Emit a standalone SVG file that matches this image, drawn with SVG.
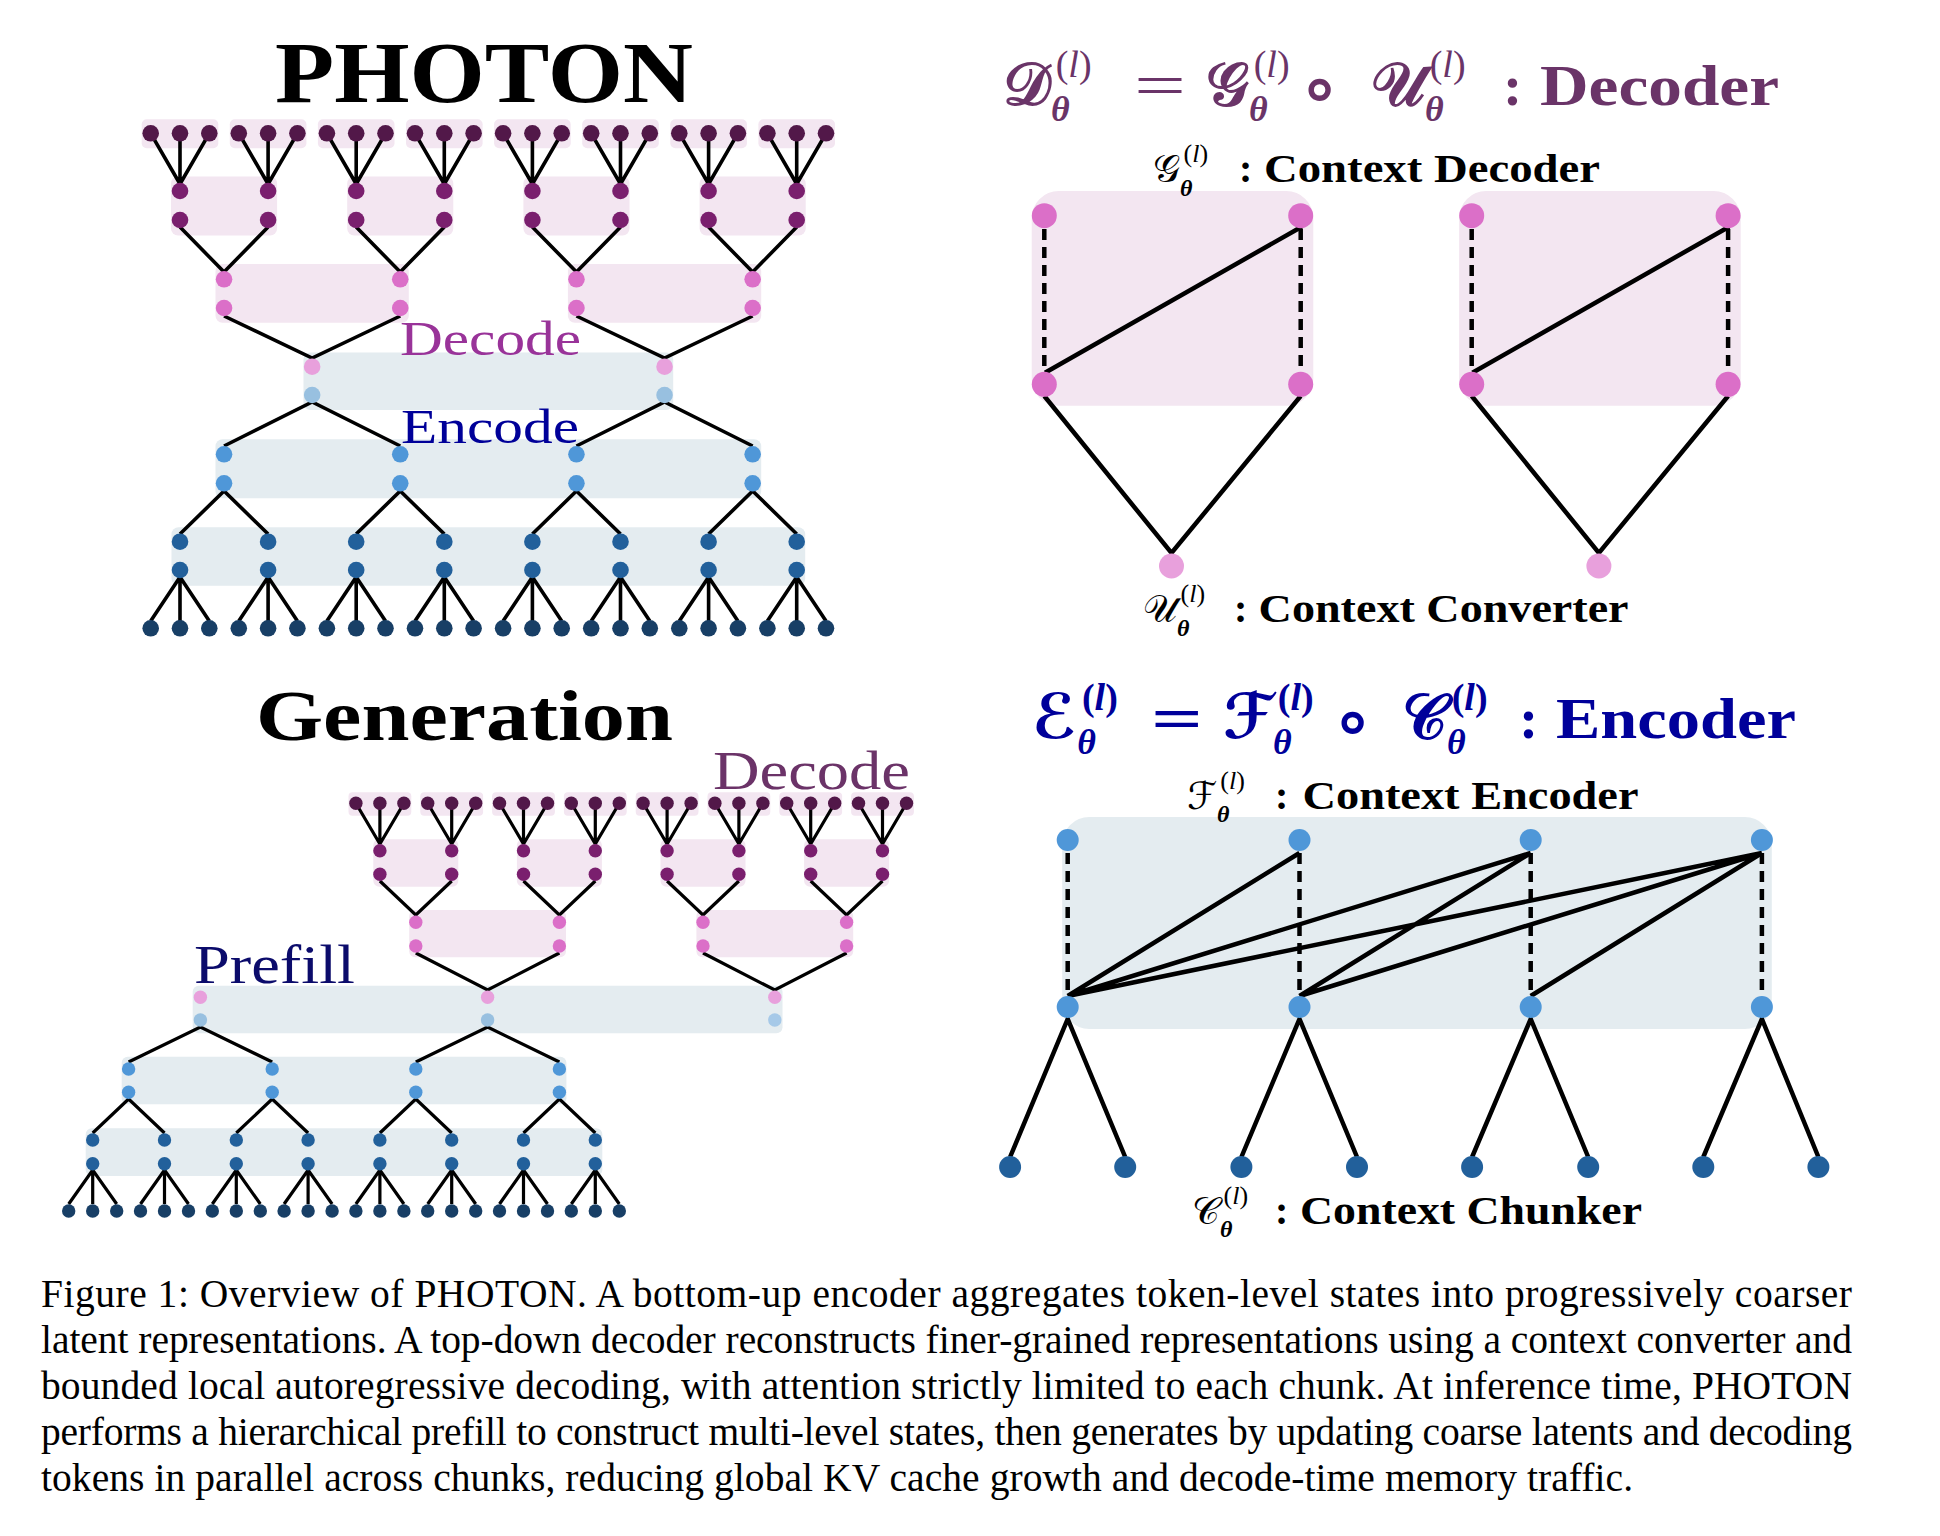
<svg xmlns="http://www.w3.org/2000/svg" width="1940" height="1536" viewBox="0 0 1940 1536">
<style>
text{font-family:"Liberation Serif","Times New Roman",serif}
.m{font-family:"DejaVu Serif","DejaVu Sans","Liberation Serif",serif}
.k1{fill:#521849}.k2{fill:#7a1f6e}.k3{fill:#db6fc8}.k4{fill:#e8a0dc}.k4b{fill:#98c0e0}.k5{fill:#4f97d8}.k6{fill:#22609b}.k7{fill:#183f66}
.pb{fill:#f3e6f1}.bb{fill:#e4ecf0}
.ln{stroke:#000;stroke-width:3.6;fill:none}
.lg{stroke:#000;stroke-width:3.2;fill:none}
.lw{stroke:#000;stroke-width:4.5;fill:none}
.dash{stroke-dasharray:11 7}
</style>
<rect width="1940" height="1536" fill="#fff"/>
<!-- background chunks -->
<g id="chunks">
 <g id="photon-chunks">
  <rect id="pc-leaf-0" class="pb" x="141.7" y="119.3" width="76.6" height="29" rx="5"/>
  <rect id="pc-leaf-1" class="pb" x="229.8" y="119.3" width="76.6" height="29" rx="5"/>
  <rect id="pc-leaf-2" class="pb" x="317.9" y="119.3" width="76.6" height="29" rx="5"/>
  <rect id="pc-leaf-3" class="pb" x="406.0" y="119.3" width="76.6" height="29" rx="5"/>
  <rect id="pc-leaf-4" class="pb" x="494.1" y="119.3" width="76.6" height="29" rx="5"/>
  <rect id="pc-leaf-5" class="pb" x="582.2" y="119.3" width="76.6" height="29" rx="5"/>
  <rect id="pc-leaf-6" class="pb" x="670.3" y="119.3" width="76.6" height="29" rx="5"/>
  <rect id="pc-leaf-7" class="pb" x="758.4" y="119.3" width="76.6" height="29" rx="5"/>
  <rect id="pc-l2-0" class="pb" x="171.0" y="176.5" width="106.1" height="59" rx="7"/>
  <rect id="pc-l2-1" class="pb" x="347.2" y="176.5" width="106.1" height="59" rx="7"/>
  <rect id="pc-l2-2" class="pb" x="523.4" y="176.5" width="106.1" height="59" rx="7"/>
  <rect id="pc-l2-3" class="pb" x="699.6" y="176.5" width="106.1" height="59" rx="7"/>
  <rect id="pc-l3-0" class="pb" x="215.5" y="264" width="193.3" height="58.7" rx="7"/>
  <rect id="pc-l3-1" class="pb" x="567.9" y="264" width="193.3" height="58.7" rx="7"/>
  <rect id="pc-l4" class="bb" x="303.5" y="352.5" width="369.7" height="57.5" rx="7"/>
  <rect id="pc-l5" class="bb" x="215.5" y="439.3" width="545.7" height="59" rx="7"/>
  <rect id="pc-l6" class="bb" x="171.5" y="527.3" width="633.7" height="58.4" rx="7"/>
 </g>
 <g id="gen-chunks">
  <rect id="gc-leaf-0" class="pb" x="348.5" y="792.3" width="62.8" height="23.4" rx="4"/>
  <rect id="gc-leaf-1" class="pb" x="420.3" y="792.3" width="62.8" height="23.4" rx="4"/>
  <rect id="gc-leaf-2" class="pb" x="492.1" y="792.3" width="62.8" height="23.4" rx="4"/>
  <rect id="gc-leaf-3" class="pb" x="563.9" y="792.3" width="62.8" height="23.4" rx="4"/>
  <rect id="gc-leaf-4" class="pb" x="635.7" y="792.3" width="62.8" height="23.4" rx="4"/>
  <rect id="gc-leaf-5" class="pb" x="707.5" y="792.3" width="62.8" height="23.4" rx="4"/>
  <rect id="gc-leaf-6" class="pb" x="779.3" y="792.3" width="62.8" height="23.4" rx="4"/>
  <rect id="gc-leaf-7" class="pb" x="851.1" y="792.3" width="62.8" height="23.4" rx="4"/>
  <rect id="gc-l2-0" class="pb" x="373.3" y="839.3" width="85" height="47.4" rx="6"/>
  <rect id="gc-l2-1" class="pb" x="516.9" y="839.3" width="85" height="47.4" rx="6"/>
  <rect id="gc-l2-2" class="pb" x="660.5" y="839.3" width="85" height="47.4" rx="6"/>
  <rect id="gc-l2-3" class="pb" x="804.1" y="839.3" width="85" height="47.4" rx="6"/>
  <rect id="gc-l3-0" class="pb" x="409.2" y="910" width="156.8" height="47.3" rx="6"/>
  <rect id="gc-l3-1" class="pb" x="696.4" y="910" width="156.8" height="47.3" rx="6"/>
  <rect id="gc-l4" class="bb" x="192.7" y="985.7" width="589.8" height="47.6" rx="6"/>
  <rect id="gc-l5" class="bb" x="121.7" y="1056.7" width="444.7" height="47.6" rx="6"/>
  <rect id="gc-l6" class="bb" x="85.7" y="1128.3" width="516.6" height="47.7" rx="6"/>
 </g>
 <rect id="dec-box-0" class="pb" x="1031.7" y="191" width="281.6" height="214.7" rx="27"/>
 <rect id="dec-box-1" class="pb" x="1459.1" y="191" width="281.6" height="214.7" rx="27"/>
 <rect id="enc-box" class="bb" x="1062.2" y="817" width="709.6" height="212" rx="27"/>
</g>
<!-- connectors -->
<g id="connectors">
 <g id="photon-edges" class="ln">
  <path transform="translate(180 0)" d="M-29.3 133.3L0 184M0 133.3V184M29.3 133.3L0 184"/>
  <path transform="translate(268.1 0)" d="M-29.3 133.3L0 184M0 133.3V184M29.3 133.3L0 184"/>
  <path transform="translate(356.2 0)" d="M-29.3 133.3L0 184M0 133.3V184M29.3 133.3L0 184"/>
  <path transform="translate(444.3 0)" d="M-29.3 133.3L0 184M0 133.3V184M29.3 133.3L0 184"/>
  <path transform="translate(532.4 0)" d="M-29.3 133.3L0 184M0 133.3V184M29.3 133.3L0 184"/>
  <path transform="translate(620.5 0)" d="M-29.3 133.3L0 184M0 133.3V184M29.3 133.3L0 184"/>
  <path transform="translate(708.6 0)" d="M-29.3 133.3L0 184M0 133.3V184M29.3 133.3L0 184"/>
  <path transform="translate(796.7 0)" d="M-29.3 133.3L0 184M0 133.3V184M29.3 133.3L0 184"/>
  <path transform="translate(224.05 0)" d="M-44.05 227L0 272L44.05 227"/>
  <path transform="translate(400.25 0)" d="M-44.05 227L0 272L44.05 227"/>
  <path transform="translate(576.45 0)" d="M-44.05 227L0 272L44.05 227"/>
  <path transform="translate(752.65 0)" d="M-44.05 227L0 272L44.05 227"/>
  <path transform="translate(312.15 0)" d="M-88.1 316L0 358L88.1 316"/>
  <path transform="translate(664.55 0)" d="M-88.1 316L0 358L88.1 316"/>
  <path transform="translate(312.15 0)" d="M-88.1 446L0 402L88.1 446"/>
  <path transform="translate(664.55 0)" d="M-88.1 446L0 402L88.1 446"/>
  <path transform="translate(224.05 0)" d="M-44.05 534L0 491L44.05 534"/>
  <path transform="translate(400.25 0)" d="M-44.05 534L0 491L44.05 534"/>
  <path transform="translate(576.45 0)" d="M-44.05 534L0 491L44.05 534"/>
  <path transform="translate(752.65 0)" d="M-44.05 534L0 491L44.05 534"/>
  <path transform="translate(180 0)" d="M-29.3 621L0 577L29.3 621M0 577V621"/>
  <path transform="translate(268.1 0)" d="M-29.3 621L0 577L29.3 621M0 577V621"/>
  <path transform="translate(356.2 0)" d="M-29.3 621L0 577L29.3 621M0 577V621"/>
  <path transform="translate(444.3 0)" d="M-29.3 621L0 577L29.3 621M0 577V621"/>
  <path transform="translate(532.4 0)" d="M-29.3 621L0 577L29.3 621M0 577V621"/>
  <path transform="translate(620.5 0)" d="M-29.3 621L0 577L29.3 621M0 577V621"/>
  <path transform="translate(708.6 0)" d="M-29.3 621L0 577L29.3 621M0 577V621"/>
  <path transform="translate(796.7 0)" d="M-29.3 621L0 577L29.3 621M0 577V621"/>
 </g>
 <g id="gen-edges" class="lg">
  <path transform="translate(379.9 0)" d="M-24 803.3L0 844M0 803.3V844M24 803.3L0 844"/>
  <path transform="translate(451.7 0)" d="M-24 803.3L0 844M0 803.3V844M24 803.3L0 844"/>
  <path transform="translate(523.5 0)" d="M-24 803.3L0 844M0 803.3V844M24 803.3L0 844"/>
  <path transform="translate(595.3 0)" d="M-24 803.3L0 844M0 803.3V844M24 803.3L0 844"/>
  <path transform="translate(667.1 0)" d="M-24 803.3L0 844M0 803.3V844M24 803.3L0 844"/>
  <path transform="translate(738.9 0)" d="M-24 803.3L0 844M0 803.3V844M24 803.3L0 844"/>
  <path transform="translate(810.7 0)" d="M-24 803.3L0 844M0 803.3V844M24 803.3L0 844"/>
  <path transform="translate(882.5 0)" d="M-24 803.3L0 844M0 803.3V844M24 803.3L0 844"/>
  <path transform="translate(415.8 0)" d="M-35.9 881L0 915L35.9 881"/>
  <path transform="translate(559.4 0)" d="M-35.9 881L0 915L35.9 881"/>
  <path transform="translate(703.0 0)" d="M-35.9 881L0 915L35.9 881"/>
  <path transform="translate(846.6 0)" d="M-35.9 881L0 915L35.9 881"/>
  <path transform="translate(487.6 0)" d="M-71.8 953L0 990L71.8 953"/>
  <path transform="translate(774.8 0)" d="M-71.8 953L0 990L71.8 953"/>
  <path transform="translate(200.4 0)" d="M-71.8 1062L0 1027L71.8 1062"/>
  <path transform="translate(487.6 0)" d="M-71.8 1062L0 1027L71.8 1062"/>
  <path transform="translate(128.6 0)" d="M-35.9 1133L0 1099L35.9 1133"/>
  <path transform="translate(272.2 0)" d="M-35.9 1133L0 1099L35.9 1133"/>
  <path transform="translate(415.8 0)" d="M-35.9 1133L0 1099L35.9 1133"/>
  <path transform="translate(559.4 0)" d="M-35.9 1133L0 1099L35.9 1133"/>
  <path transform="translate(92.7 0)" d="M-24 1204L0 1170L24 1204M0 1170V1204"/>
  <path transform="translate(164.5 0)" d="M-24 1204L0 1170L24 1204M0 1170V1204"/>
  <path transform="translate(236.3 0)" d="M-24 1204L0 1170L24 1204M0 1170V1204"/>
  <path transform="translate(308.1 0)" d="M-24 1204L0 1170L24 1204M0 1170V1204"/>
  <path transform="translate(379.9 0)" d="M-24 1204L0 1170L24 1204M0 1170V1204"/>
  <path transform="translate(451.7 0)" d="M-24 1204L0 1170L24 1204M0 1170V1204"/>
  <path transform="translate(523.5 0)" d="M-24 1204L0 1170L24 1204M0 1170V1204"/>
  <path transform="translate(595.3 0)" d="M-24 1204L0 1170L24 1204M0 1170V1204"/>
 </g>
 <g id="decoder-edges" class="lw">
  <path class="dash" d="M1044.3 229V372M1300.7 229V372M1471.7 229V372M1728.1 229V372"/>
  <path d="M1045 372.7L1301.7 226.7M1472.4 372.7L1729.1 226.7"/>
  <path d="M1044.3 396L1171.5 553L1300.7 396M1471.7 396L1598.9 553L1728.1 396"/>
 </g>
 <g id="encoder-edges" class="lw">
  <path class="dash" d="M1067.7 853V995M1299.5 853V995M1530.7 853V995M1761.9 853V995"/>
  <path d="M1067.7 996L1299.5 853M1067.7 996L1530.7 853M1067.7 996L1761.9 853M1299.5 996L1530.7 853M1299.5 996L1761.9 853M1530.7 996L1761.9 853"/>
  <path d="M1010.1 1157L1067.7 1019L1125.2 1157M1241.4 1157L1299.5 1019L1357 1157M1472.1 1157L1530.7 1019L1588.2 1157M1703.3 1157L1761.9 1019L1818.4 1157"/>
 </g>
</g>
<!-- PHOTON nodes -->
<g id="photon-nodes">
 <g id="p-dleaf-0" class="k1" transform="translate(180 0)"><circle cx="-29.3" cy="133.3" r="8.3"/><circle cx="0" cy="133.3" r="8.3"/><circle cx="29.3" cy="133.3" r="8.3"/></g>
 <g id="p-dleaf-1" class="k1" transform="translate(268.1 0)"><circle cx="-29.3" cy="133.3" r="8.3"/><circle cx="0" cy="133.3" r="8.3"/><circle cx="29.3" cy="133.3" r="8.3"/></g>
 <g id="p-dleaf-2" class="k1" transform="translate(356.2 0)"><circle cx="-29.3" cy="133.3" r="8.3"/><circle cx="0" cy="133.3" r="8.3"/><circle cx="29.3" cy="133.3" r="8.3"/></g>
 <g id="p-dleaf-3" class="k1" transform="translate(444.3 0)"><circle cx="-29.3" cy="133.3" r="8.3"/><circle cx="0" cy="133.3" r="8.3"/><circle cx="29.3" cy="133.3" r="8.3"/></g>
 <g id="p-dleaf-4" class="k1" transform="translate(532.4 0)"><circle cx="-29.3" cy="133.3" r="8.3"/><circle cx="0" cy="133.3" r="8.3"/><circle cx="29.3" cy="133.3" r="8.3"/></g>
 <g id="p-dleaf-5" class="k1" transform="translate(620.5 0)"><circle cx="-29.3" cy="133.3" r="8.3"/><circle cx="0" cy="133.3" r="8.3"/><circle cx="29.3" cy="133.3" r="8.3"/></g>
 <g id="p-dleaf-6" class="k1" transform="translate(708.6 0)"><circle cx="-29.3" cy="133.3" r="8.3"/><circle cx="0" cy="133.3" r="8.3"/><circle cx="29.3" cy="133.3" r="8.3"/></g>
 <g id="p-dleaf-7" class="k1" transform="translate(796.7 0)"><circle cx="-29.3" cy="133.3" r="8.3"/><circle cx="0" cy="133.3" r="8.3"/><circle cx="29.3" cy="133.3" r="8.3"/></g>
 <g id="p-l2-0" class="k2" transform="translate(180 0)"><circle cx="0" cy="191" r="8.3"/><circle cx="0" cy="220" r="8.3"/><circle cx="88.1" cy="191" r="8.3"/><circle cx="88.1" cy="220" r="8.3"/></g>
 <g id="p-l2-1" class="k2" transform="translate(356.2 0)"><circle cx="0" cy="191" r="8.3"/><circle cx="0" cy="220" r="8.3"/><circle cx="88.1" cy="191" r="8.3"/><circle cx="88.1" cy="220" r="8.3"/></g>
 <g id="p-l2-2" class="k2" transform="translate(532.4 0)"><circle cx="0" cy="191" r="8.3"/><circle cx="0" cy="220" r="8.3"/><circle cx="88.1" cy="191" r="8.3"/><circle cx="88.1" cy="220" r="8.3"/></g>
 <g id="p-l2-3" class="k2" transform="translate(708.6 0)"><circle cx="0" cy="191" r="8.3"/><circle cx="0" cy="220" r="8.3"/><circle cx="88.1" cy="191" r="8.3"/><circle cx="88.1" cy="220" r="8.3"/></g>
 <g id="p-l3-0" class="k3" transform="translate(224.05 0)"><circle cx="0" cy="279.3" r="8.3"/><circle cx="0" cy="308" r="8.3"/><circle cx="176.2" cy="279.3" r="8.3"/><circle cx="176.2" cy="308" r="8.3"/></g>
 <g id="p-l3-1" class="k3" transform="translate(576.45 0)"><circle cx="0" cy="279.3" r="8.3"/><circle cx="0" cy="308" r="8.3"/><circle cx="176.2" cy="279.3" r="8.3"/><circle cx="176.2" cy="308" r="8.3"/></g>
 <g id="p-l4"><circle class="k4" cx="312.15" cy="366.7" r="8.3"/><circle class="k4b" cx="312.15" cy="395" r="8.3"/><circle class="k4" cx="664.55" cy="366.7" r="8.3"/><circle class="k4b" cx="664.55" cy="395" r="8.3"/></g>
 <g id="p-l5" class="k5"><circle cx="224.05" cy="454.3" r="8.3"/><circle cx="224.05" cy="483.3" r="8.3"/><circle cx="400.25" cy="454.3" r="8.3"/><circle cx="400.25" cy="483.3" r="8.3"/><circle cx="576.45" cy="454.3" r="8.3"/><circle cx="576.45" cy="483.3" r="8.3"/><circle cx="752.65" cy="454.3" r="8.3"/><circle cx="752.65" cy="483.3" r="8.3"/></g>
 <g id="p-l6" class="k6"><circle cx="180" cy="541.7" r="8.3"/><circle cx="180" cy="570" r="8.3"/><circle cx="268.1" cy="541.7" r="8.3"/><circle cx="268.1" cy="570" r="8.3"/><circle cx="356.2" cy="541.7" r="8.3"/><circle cx="356.2" cy="570" r="8.3"/><circle cx="444.3" cy="541.7" r="8.3"/><circle cx="444.3" cy="570" r="8.3"/><circle cx="532.4" cy="541.7" r="8.3"/><circle cx="532.4" cy="570" r="8.3"/><circle cx="620.5" cy="541.7" r="8.3"/><circle cx="620.5" cy="570" r="8.3"/><circle cx="708.6" cy="541.7" r="8.3"/><circle cx="708.6" cy="570" r="8.3"/><circle cx="796.7" cy="541.7" r="8.3"/><circle cx="796.7" cy="570" r="8.3"/></g>
 <g id="p-eleaf-0" class="k7" transform="translate(180 0)"><circle cx="-29.3" cy="628.3" r="8.3"/><circle cx="0" cy="628.3" r="8.3"/><circle cx="29.3" cy="628.3" r="8.3"/></g>
 <g id="p-eleaf-1" class="k7" transform="translate(268.1 0)"><circle cx="-29.3" cy="628.3" r="8.3"/><circle cx="0" cy="628.3" r="8.3"/><circle cx="29.3" cy="628.3" r="8.3"/></g>
 <g id="p-eleaf-2" class="k7" transform="translate(356.2 0)"><circle cx="-29.3" cy="628.3" r="8.3"/><circle cx="0" cy="628.3" r="8.3"/><circle cx="29.3" cy="628.3" r="8.3"/></g>
 <g id="p-eleaf-3" class="k7" transform="translate(444.3 0)"><circle cx="-29.3" cy="628.3" r="8.3"/><circle cx="0" cy="628.3" r="8.3"/><circle cx="29.3" cy="628.3" r="8.3"/></g>
 <g id="p-eleaf-4" class="k7" transform="translate(532.4 0)"><circle cx="-29.3" cy="628.3" r="8.3"/><circle cx="0" cy="628.3" r="8.3"/><circle cx="29.3" cy="628.3" r="8.3"/></g>
 <g id="p-eleaf-5" class="k7" transform="translate(620.5 0)"><circle cx="-29.3" cy="628.3" r="8.3"/><circle cx="0" cy="628.3" r="8.3"/><circle cx="29.3" cy="628.3" r="8.3"/></g>
 <g id="p-eleaf-6" class="k7" transform="translate(708.6 0)"><circle cx="-29.3" cy="628.3" r="8.3"/><circle cx="0" cy="628.3" r="8.3"/><circle cx="29.3" cy="628.3" r="8.3"/></g>
 <g id="p-eleaf-7" class="k7" transform="translate(796.7 0)"><circle cx="-29.3" cy="628.3" r="8.3"/><circle cx="0" cy="628.3" r="8.3"/><circle cx="29.3" cy="628.3" r="8.3"/></g>
</g>
<!-- Generation nodes -->
<g id="gen-nodes">
 <g id="g-dleaf-0" class="k1" transform="translate(379.9 0)"><circle cx="-24" cy="803.3" r="6.7"/><circle cx="0" cy="803.3" r="6.7"/><circle cx="24" cy="803.3" r="6.7"/></g>
 <g id="g-dleaf-1" class="k1" transform="translate(451.7 0)"><circle cx="-24" cy="803.3" r="6.7"/><circle cx="0" cy="803.3" r="6.7"/><circle cx="24" cy="803.3" r="6.7"/></g>
 <g id="g-dleaf-2" class="k1" transform="translate(523.5 0)"><circle cx="-24" cy="803.3" r="6.7"/><circle cx="0" cy="803.3" r="6.7"/><circle cx="24" cy="803.3" r="6.7"/></g>
 <g id="g-dleaf-3" class="k1" transform="translate(595.3 0)"><circle cx="-24" cy="803.3" r="6.7"/><circle cx="0" cy="803.3" r="6.7"/><circle cx="24" cy="803.3" r="6.7"/></g>
 <g id="g-dleaf-4" class="k1" transform="translate(667.1 0)"><circle cx="-24" cy="803.3" r="6.7"/><circle cx="0" cy="803.3" r="6.7"/><circle cx="24" cy="803.3" r="6.7"/></g>
 <g id="g-dleaf-5" class="k1" transform="translate(738.9 0)"><circle cx="-24" cy="803.3" r="6.7"/><circle cx="0" cy="803.3" r="6.7"/><circle cx="24" cy="803.3" r="6.7"/></g>
 <g id="g-dleaf-6" class="k1" transform="translate(810.7 0)"><circle cx="-24" cy="803.3" r="6.7"/><circle cx="0" cy="803.3" r="6.7"/><circle cx="24" cy="803.3" r="6.7"/></g>
 <g id="g-dleaf-7" class="k1" transform="translate(882.5 0)"><circle cx="-24" cy="803.3" r="6.7"/><circle cx="0" cy="803.3" r="6.7"/><circle cx="24" cy="803.3" r="6.7"/></g>
 <g id="g-l2-0" class="k2" transform="translate(379.9 0)"><circle cx="0" cy="850.7" r="6.7"/><circle cx="0" cy="874.3" r="6.7"/><circle cx="71.8" cy="850.7" r="6.7"/><circle cx="71.8" cy="874.3" r="6.7"/></g>
 <g id="g-l2-1" class="k2" transform="translate(523.5 0)"><circle cx="0" cy="850.7" r="6.7"/><circle cx="0" cy="874.3" r="6.7"/><circle cx="71.8" cy="850.7" r="6.7"/><circle cx="71.8" cy="874.3" r="6.7"/></g>
 <g id="g-l2-2" class="k2" transform="translate(667.1 0)"><circle cx="0" cy="850.7" r="6.7"/><circle cx="0" cy="874.3" r="6.7"/><circle cx="71.8" cy="850.7" r="6.7"/><circle cx="71.8" cy="874.3" r="6.7"/></g>
 <g id="g-l2-3" class="k2" transform="translate(810.7 0)"><circle cx="0" cy="850.7" r="6.7"/><circle cx="0" cy="874.3" r="6.7"/><circle cx="71.8" cy="850.7" r="6.7"/><circle cx="71.8" cy="874.3" r="6.7"/></g>
 <g id="g-l3-0" class="k3" transform="translate(415.8 0)"><circle cx="0" cy="922.3" r="6.7"/><circle cx="0" cy="946" r="6.7"/><circle cx="143.6" cy="922.3" r="6.7"/><circle cx="143.6" cy="946" r="6.7"/></g>
 <g id="g-l3-1" class="k3" transform="translate(703.0 0)"><circle cx="0" cy="922.3" r="6.7"/><circle cx="0" cy="946" r="6.7"/><circle cx="143.6" cy="922.3" r="6.7"/><circle cx="143.6" cy="946" r="6.7"/></g>
 <g id="g-l4"><circle class="k4" cx="200.4" cy="997.3" r="6.7"/><circle class="k4b" cx="200.4" cy="1020" r="6.7"/><circle class="k4" cx="487.6" cy="997.3" r="6.7"/><circle class="k4b" cx="487.6" cy="1020" r="6.7"/><circle class="k4" cx="774.8" cy="997.3" r="6.7"/><circle fill="#a6c9e8" cx="774.8" cy="1020" r="6.7"/></g>
 <g id="g-l5" class="k5"><circle cx="128.6" cy="1069" r="6.7"/><circle cx="128.6" cy="1092.3" r="6.7"/><circle cx="272.2" cy="1069" r="6.7"/><circle cx="272.2" cy="1092.3" r="6.7"/><circle cx="415.8" cy="1069" r="6.7"/><circle cx="415.8" cy="1092.3" r="6.7"/><circle cx="559.4" cy="1069" r="6.7"/><circle cx="559.4" cy="1092.3" r="6.7"/></g>
 <g id="g-l6" class="k6"><circle cx="92.7" cy="1140" r="6.7"/><circle cx="92.7" cy="1163.7" r="6.7"/><circle cx="164.5" cy="1140" r="6.7"/><circle cx="164.5" cy="1163.7" r="6.7"/><circle cx="236.3" cy="1140" r="6.7"/><circle cx="236.3" cy="1163.7" r="6.7"/><circle cx="308.1" cy="1140" r="6.7"/><circle cx="308.1" cy="1163.7" r="6.7"/><circle cx="379.9" cy="1140" r="6.7"/><circle cx="379.9" cy="1163.7" r="6.7"/><circle cx="451.7" cy="1140" r="6.7"/><circle cx="451.7" cy="1163.7" r="6.7"/><circle cx="523.5" cy="1140" r="6.7"/><circle cx="523.5" cy="1163.7" r="6.7"/><circle cx="595.3" cy="1140" r="6.7"/><circle cx="595.3" cy="1163.7" r="6.7"/></g>
 <g id="g-eleaf-0" class="k7" transform="translate(92.7 0)"><circle cx="-24" cy="1211" r="6.7"/><circle cx="0" cy="1211" r="6.7"/><circle cx="24" cy="1211" r="6.7"/></g>
 <g id="g-eleaf-1" class="k7" transform="translate(164.5 0)"><circle cx="-24" cy="1211" r="6.7"/><circle cx="0" cy="1211" r="6.7"/><circle cx="24" cy="1211" r="6.7"/></g>
 <g id="g-eleaf-2" class="k7" transform="translate(236.3 0)"><circle cx="-24" cy="1211" r="6.7"/><circle cx="0" cy="1211" r="6.7"/><circle cx="24" cy="1211" r="6.7"/></g>
 <g id="g-eleaf-3" class="k7" transform="translate(308.1 0)"><circle cx="-24" cy="1211" r="6.7"/><circle cx="0" cy="1211" r="6.7"/><circle cx="24" cy="1211" r="6.7"/></g>
 <g id="g-eleaf-4" class="k7" transform="translate(379.9 0)"><circle cx="-24" cy="1211" r="6.7"/><circle cx="0" cy="1211" r="6.7"/><circle cx="24" cy="1211" r="6.7"/></g>
 <g id="g-eleaf-5" class="k7" transform="translate(451.7 0)"><circle cx="-24" cy="1211" r="6.7"/><circle cx="0" cy="1211" r="6.7"/><circle cx="24" cy="1211" r="6.7"/></g>
 <g id="g-eleaf-6" class="k7" transform="translate(523.5 0)"><circle cx="-24" cy="1211" r="6.7"/><circle cx="0" cy="1211" r="6.7"/><circle cx="24" cy="1211" r="6.7"/></g>
 <g id="g-eleaf-7" class="k7" transform="translate(595.3 0)"><circle cx="-24" cy="1211" r="6.7"/><circle cx="0" cy="1211" r="6.7"/><circle cx="24" cy="1211" r="6.7"/></g>
</g>
<!-- Decoder detail nodes -->
<g id="decoder-nodes">
 <g id="dec-chunk-0" class="k3"><circle cx="1044.3" cy="215.7" r="12.5"/><circle cx="1300.7" cy="215.7" r="12.5"/><circle cx="1044.3" cy="384.3" r="12.5"/><circle cx="1300.7" cy="384.3" r="12.5"/></g>
 <g id="dec-chunk-1" class="k3"><circle cx="1471.7" cy="215.7" r="12.5"/><circle cx="1728.1" cy="215.7" r="12.5"/><circle cx="1471.7" cy="384.3" r="12.5"/><circle cx="1728.1" cy="384.3" r="12.5"/></g>
 <g id="dec-conv-0" class="k4"><circle cx="1171.5" cy="566" r="12.5"/></g>
 <g id="dec-conv-1" class="k4"><circle cx="1598.9" cy="566" r="12.5"/></g>
</g>
<!-- Encoder detail nodes -->
<g id="encoder-nodes">
 <g id="enc-top" class="k5"><circle cx="1067.7" cy="840" r="11"/><circle cx="1299.5" cy="840" r="11"/><circle cx="1530.7" cy="840" r="11"/><circle cx="1761.9" cy="840" r="11"/></g>
 <g id="enc-bottom" class="k5"><circle cx="1067.7" cy="1007" r="11"/><circle cx="1299.5" cy="1007" r="11"/><circle cx="1530.7" cy="1007" r="11"/><circle cx="1761.9" cy="1007" r="11"/></g>
 <g id="enc-leaves" class="k6"><circle cx="1010.1" cy="1167" r="11"/><circle cx="1125.2" cy="1167" r="11"/><circle cx="1241.4" cy="1167" r="11"/><circle cx="1357" cy="1167" r="11"/><circle cx="1472.1" cy="1167" r="11"/><circle cx="1588.2" cy="1167" r="11"/><circle cx="1703.3" cy="1167" r="11"/><circle cx="1818.4" cy="1167" r="11"/></g>
</g>
<!-- labels -->
<g id="labels">
 <text x="275" y="102" font-size="86" font-weight="bold" textLength="418" lengthAdjust="spacingAndGlyphs">PHOTON</text>
 <text x="400" y="355" font-size="49" fill="#993399" textLength="181" lengthAdjust="spacingAndGlyphs">Decode</text>
 <text x="401" y="443" font-size="49" fill="#000099" textLength="178" lengthAdjust="spacingAndGlyphs">Encode</text>
 <text x="256" y="740" font-size="72" font-weight="bold" textLength="417" lengthAdjust="spacingAndGlyphs">Generation</text>
 <text x="713" y="789" font-size="54" fill="#6b3368" textLength="197" lengthAdjust="spacingAndGlyphs">Decode</text>
 <text x="194" y="983" font-size="54" fill="#0b0b6b" textLength="161" lengthAdjust="spacingAndGlyphs">Prefill</text>
 <text fill="#6a3468" font-weight="bold"><tspan class="m" x="1003" y="105" font-size="60">𝒟</tspan><tspan dy="16" font-size="36" font-style="italic">θ</tspan><tspan dx="-14" dy="-44" font-size="38" font-weight="normal">(<tspan font-style="italic">l</tspan>)</tspan><tspan x="1134" y="105" font-size="60" font-weight="normal" textLength="52" lengthAdjust="spacingAndGlyphs">=</tspan><tspan class="m" x="1206" y="105" font-size="60">𝒢</tspan><tspan dy="16" font-size="36" font-style="italic">θ</tspan><tspan dx="-14" dy="-44" font-size="38" font-weight="normal">(<tspan font-style="italic">l</tspan>)</tspan><tspan class="m" x="1300" y="115" font-size="80" font-weight="normal">∘</tspan><tspan class="m" x="1371" y="105" font-size="60">𝒰</tspan><tspan dy="16" font-size="36" font-style="italic">θ</tspan><tspan dx="-14" dy="-44" font-size="38" font-weight="normal">(<tspan font-style="italic">l</tspan>)</tspan><tspan x="1503" y="105" font-size="58">:</tspan><tspan x="1540" y="105" font-size="58" textLength="239" lengthAdjust="spacingAndGlyphs">Decoder</tspan></text>
 <text font-weight="bold"><tspan class="m" x="1153" y="182" font-size="38" font-weight="normal">𝒢</tspan><tspan dy="14" font-size="24" font-style="italic">θ</tspan><tspan dx="-9" dy="-34" font-size="26" font-weight="normal">(<tspan font-style="italic">l</tspan>)</tspan><tspan x="1239" y="182" font-size="40">:</tspan><tspan x="1264" y="182" font-size="40" textLength="336" lengthAdjust="spacingAndGlyphs">Context Decoder</tspan></text>
 <text font-weight="bold"><tspan class="m" x="1143" y="622" font-size="38" font-weight="normal">𝒰</tspan><tspan dy="14" font-size="24" font-style="italic">θ</tspan><tspan dx="-9" dy="-34" font-size="26" font-weight="normal">(<tspan font-style="italic">l</tspan>)</tspan><tspan x="1234" y="622" font-size="40">:</tspan><tspan x="1258.6" y="622" font-size="40" textLength="370" lengthAdjust="spacingAndGlyphs">Context Converter</tspan></text>
 <text fill="#00009a" font-weight="bold"><tspan class="m" x="1032" y="737.5" font-size="62">ℰ</tspan><tspan dy="16.5" font-size="36" font-style="italic">θ</tspan><tspan dx="-14" dy="-44" font-size="38">(<tspan font-style="italic">l</tspan>)</tspan><tspan x="1151" y="737.5" font-size="60" textLength="52" lengthAdjust="spacingAndGlyphs">=</tspan><tspan class="m" x="1223" y="737.5" font-size="62">ℱ</tspan><tspan dy="16.5" font-size="36" font-style="italic">θ</tspan><tspan dx="-14" dy="-44" font-size="38">(<tspan font-style="italic">l</tspan>)</tspan><tspan class="m" x="1333" y="748" font-size="80" font-weight="normal">∘</tspan><tspan class="m" x="1402" y="737.5" font-size="62">𝒞</tspan><tspan dy="16.5" font-size="36" font-style="italic">θ</tspan><tspan dx="-14" dy="-44" font-size="38">(<tspan font-style="italic">l</tspan>)</tspan><tspan x="1519" y="737.5" font-size="58">:</tspan><tspan x="1556" y="737.5" font-size="58" textLength="240" lengthAdjust="spacingAndGlyphs">Encoder</tspan></text>
 <text font-weight="bold"><tspan class="m" x="1187" y="809" font-size="38" font-weight="normal">ℱ</tspan><tspan dy="13" font-size="24" font-style="italic">θ</tspan><tspan dx="-9" dy="-33" font-size="26" font-weight="normal">(<tspan font-style="italic">l</tspan>)</tspan><tspan x="1275" y="809.4" font-size="40">:</tspan><tspan x="1302.5" y="809.4" font-size="40" textLength="336" lengthAdjust="spacingAndGlyphs">Context Encoder</tspan></text>
 <text font-weight="bold"><tspan class="m" x="1192" y="1223.5" font-size="38" font-weight="normal">𝒞</tspan><tspan dy="13.5" font-size="24" font-style="italic">θ</tspan><tspan dx="-9" dy="-33" font-size="26" font-weight="normal">(<tspan font-style="italic">l</tspan>)</tspan><tspan x="1275" y="1223.5" font-size="40">:</tspan><tspan x="1300" y="1223.5" font-size="40" textLength="342" lengthAdjust="spacingAndGlyphs">Context Chunker</tspan></text>
</g>
<g id="caption" font-size="39.5">
 <text x="41" y="1306.7" textLength="1811" lengthAdjust="spacing">Figure 1: Overview of PHOTON. A bottom-up encoder aggregates token-level states into progressively coarser</text>
 <text x="41" y="1353" textLength="1811" lengthAdjust="spacing">latent representations. A top-down decoder reconstructs finer-grained representations using a context converter and</text>
 <text x="41" y="1398.5" textLength="1811" lengthAdjust="spacing">bounded local autoregressive decoding, with attention strictly limited to each chunk. At inference time, PHOTON</text>
 <text x="41" y="1445" textLength="1811" lengthAdjust="spacing">performs a hierarchical prefill to construct multi-level states, then generates by updating coarse latents and decoding</text>
 <text x="41" y="1490.5" textLength="1592" lengthAdjust="spacing">tokens in parallel across chunks, reducing global KV cache growth and decode-time memory traffic.</text>
</g>
</svg>
